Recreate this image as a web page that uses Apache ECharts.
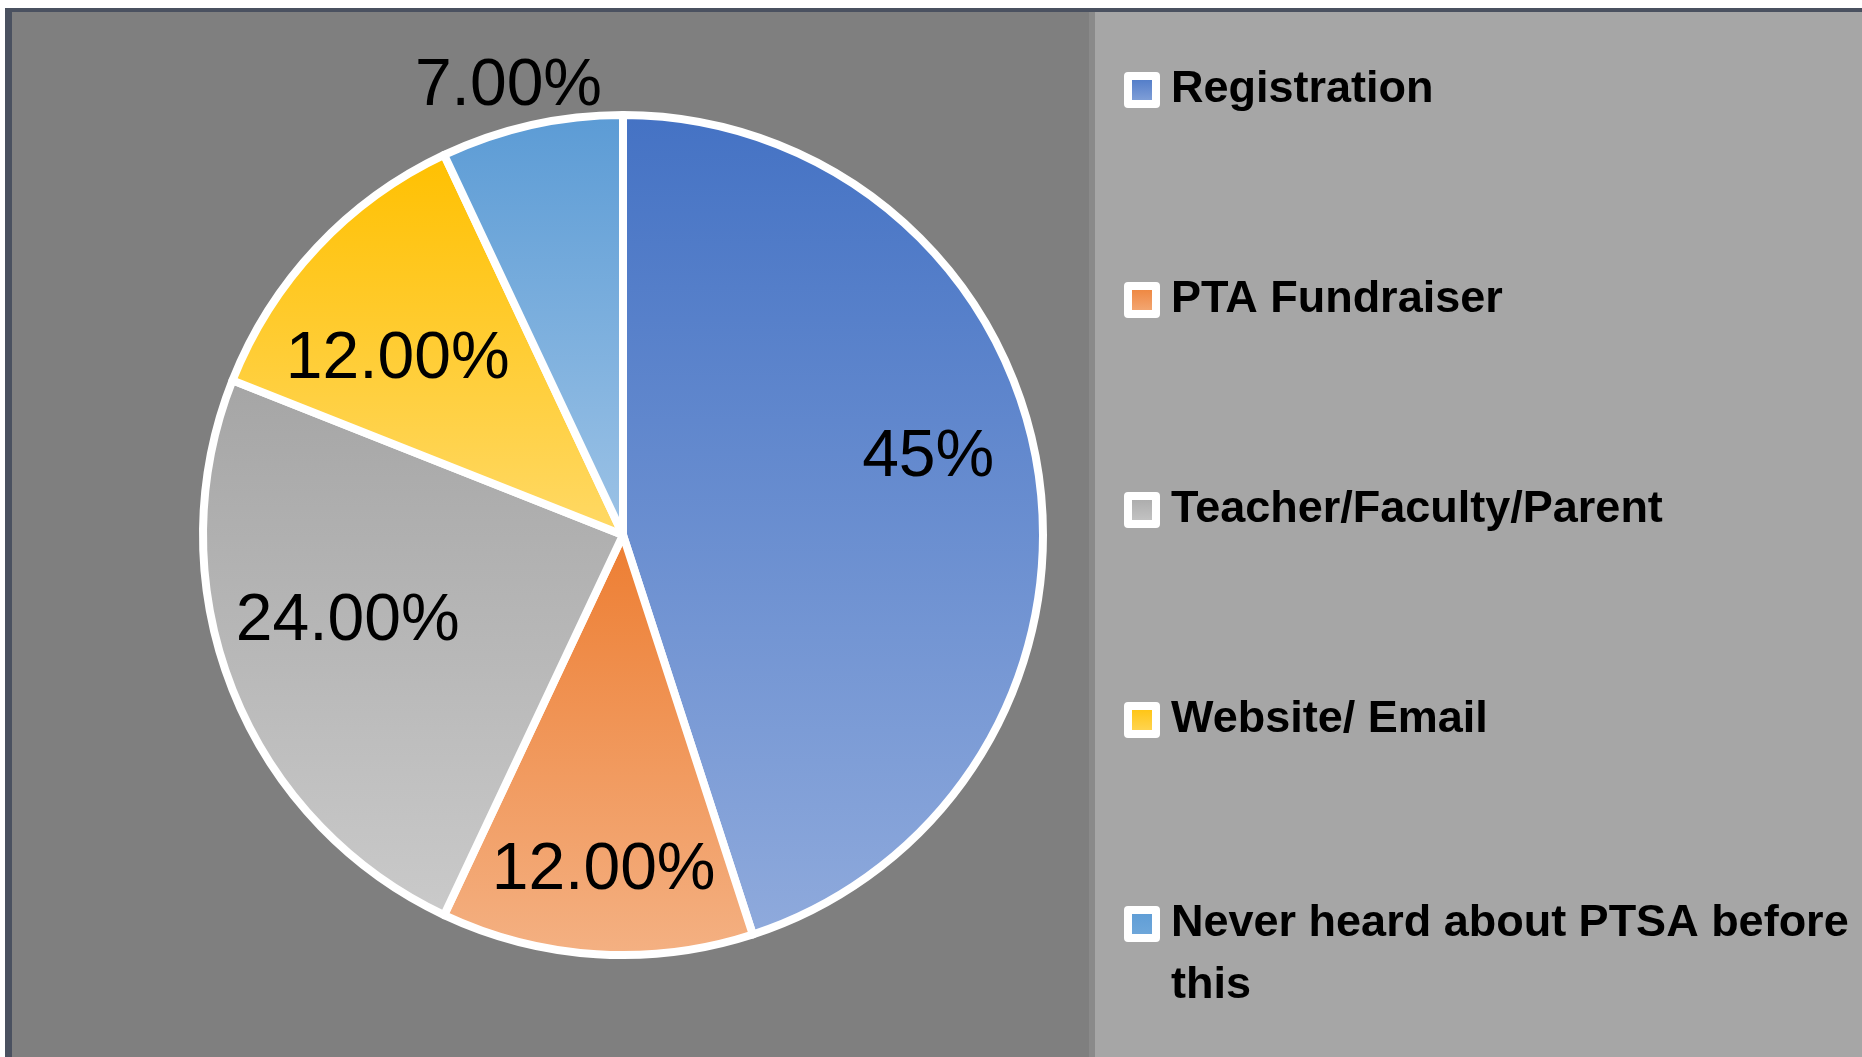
<!DOCTYPE html>
<html>
<head>
<meta charset="utf-8">
<script src="https://cdn.jsdelivr.net/npm/echarts@6/dist/echarts.min.js"></script>
<style>
html,body{margin:0;padding:0;background:#ffffff;}
#chart{width:1862px;height:1057px;}
</style>
</head>
<body>
<div id="chart"></div>
<script>
const categories = ['Registration', 'PTA Fundraiser', 'Teacher/Faculty/Parent', 'Website/ Email', 'Never heard about PTSA before this'];
const values = [45, 12, 24, 12, 7];
const labelDecimals = [0, 2, 2, 2, 2];
const gradientTop = ['#4472C4', '#ED7D31', '#A5A5A5', '#FFC000', '#5B9BD5'];
const gradientBottom = ['#8FAADC', '#F4B183', '#CACACA', '#FFD966', '#9DC3E6'];

const chart = echarts.init(document.getElementById('chart'), null, {renderer: 'canvas'});

const mainData = categories.map((name, i) => ({
  name: name,
  value: values[i],
  itemStyle: {
    color: new echarts.graphic.LinearGradient(0, 0, 0, 1, [
      {offset: 0, color: gradientTop[i]},
      {offset: 1, color: gradientBottom[i]}
    ])
  }
}));

const labelFmt = p => values[p.dataIndex].toFixed(labelDecimals[p.dataIndex]) + '%';
const insideIdx = [0, 1, 2, 3];
const outsideIdx = [4];

// small placement nudges so the labels sit where the original layout put them
const nudgeX = [0, 0, 12, 0, -12];
const nudgeY = [-29, 27, -27, 36, 10];

function labelData(showIdx) {
  return categories.map((name, i) => ({
    name: name,
    value: values[i],
    label: {show: showIdx.indexOf(i) >= 0}
  }));
}

const labelText = {
  position: 'inside',
  formatter: labelFmt,
  color: '#000000',
  fontFamily: 'Liberation Sans',
  fontSize: 66,
  fontWeight: 'normal'
};

const legendText = {
  color: '#000000',
  fontFamily: 'Liberation Sans',
  fontWeight: 'bold',
  fontSize: 45,
  lineHeight: 62,
  padding: [0, 0, 0, 10]
};

const option = {
  animation: false,
  backgroundColor: '#ffffff',
  graphic: {
    elements: [
      {type: 'rect', z: -100, shape: {x: 5, y: 8, width: 1857, height: 1049}, style: {fill: '#4a5160'}},
      {type: 'rect', z: -99, shape: {x: 12, y: 12, width: 1083, height: 1045}, style: {fill: '#7f7f7f'}},
      {type: 'rect', z: -99, shape: {x: 1095, y: 12, width: 767, height: 1045}, style: {fill: '#a6a6a6'}},
      {type: 'rect', z: -98, shape: {x: 1089, y: 12, width: 6, height: 1045}, style: {fill: '#8a8a8a'}}
    ]
  },
  legend: [
    {
      data: categories.slice(0, 4),
      orient: 'vertical',
      left: 1124,
      top: 59,
      padding: 0,
      itemGap: 148,
      itemWidth: 28,
      itemHeight: 28,
      icon: 'rect',
      selectedMode: false,
      itemStyle: {borderColor: '#ffffff', borderWidth: 8},
      textStyle: legendText
    },
    {
      data: categories.slice(4),
      orient: 'vertical',
      left: 1124,
      top: 893,
      padding: 0,
      itemWidth: 28,
      itemHeight: 90,
      icon: 'path://M0,0L28,0L28,28L0,28Z M0,90',
      selectedMode: false,
      itemStyle: {borderColor: '#ffffff', borderWidth: 8},
      formatter: name => name.replace(' this', '\nthis'),
      textStyle: legendText
    }
  ],
  series: [
    {
      type: 'pie',
      center: [623, 535],
      radius: [0, 420],
      startAngle: 90,
      clockwise: true,
      label: {show: false},
      labelLine: {show: false},
      emphasis: {disabled: true},
      itemStyle: {borderColor: '#ffffff', borderWidth: 8},
      data: mainData
    },
    {
      type: 'pie',
      center: [623, 535],
      radius: [0, 612],
      startAngle: 90,
      clockwise: true,
      silent: true,
      z: 5,
      itemStyle: {color: 'rgba(0,0,0,0)', borderWidth: 0},
      label: labelText,
      labelLine: {show: false},
      labelLayout: p => ({dx: nudgeX[p.dataIndex], dy: nudgeY[p.dataIndex]}),
      emphasis: {disabled: true},
      data: labelData(insideIdx)
    },
    {
      type: 'pie',
      center: [623, 535],
      radius: [0, 934],
      startAngle: 90,
      clockwise: true,
      silent: true,
      z: 5,
      itemStyle: {color: 'rgba(0,0,0,0)', borderWidth: 0},
      label: labelText,
      labelLine: {show: false},
      labelLayout: p => ({dx: nudgeX[p.dataIndex], dy: nudgeY[p.dataIndex]}),
      emphasis: {disabled: true},
      data: labelData(outsideIdx)
    }
  ]
};
chart.setOption(option);
</script>
</body>
</html>
